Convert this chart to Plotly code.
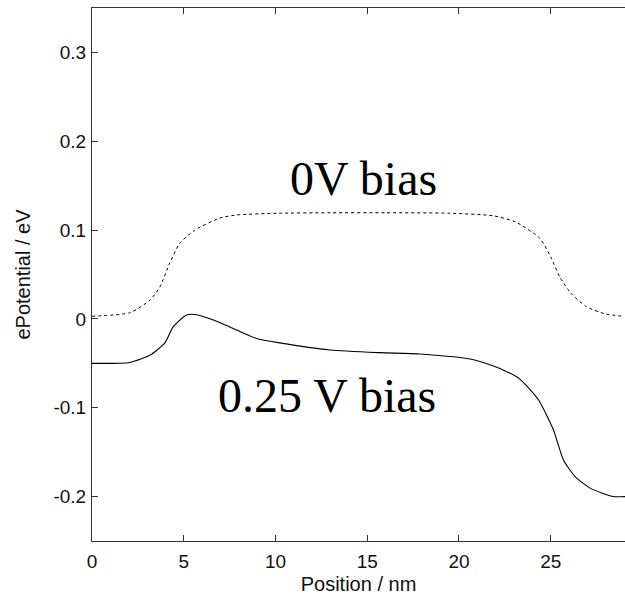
import plotly.graph_objects as go

# 0 V bias (dotted)
x_0v = [0, 2.06, 3.15, 3.7, 4.24, 4.78, 5.6, 6.97, 7.88, 10.2, 13.0, 16.0, 19.5, 21.9, 23.1, 24.4, 25.0, 25.5, 26.1, 26.95, 28.0, 29.0]
y_0v = [0.003, 0.007, 0.021, 0.036, 0.063, 0.085, 0.100, 0.1135, 0.117, 0.119, 0.1195, 0.1195, 0.119, 0.116, 0.109, 0.091, 0.070, 0.047, 0.029, 0.0137, 0.0055, 0.003]

# 0.25 V bias (solid)
x_025v = [0, 2.06, 3.15, 3.97, 4.42, 5.15, 5.7, 6.58, 7.51, 8.97, 10.24, 12.97, 15.7, 17.88, 20.8, 22.4, 23.33, 24.33, 25.15, 25.7, 26.33, 27.15, 28.42, 29.06]
y_025v = [-0.050, -0.049, -0.041, -0.027, -0.009, 0.0044, 0.0047, -0.001, -0.009, -0.022, -0.027, -0.035, -0.038, -0.0395, -0.046, -0.0574, -0.068, -0.091, -0.125, -0.159, -0.1775, -0.1905, -0.200, -0.200]

x_ticks = [0, 5, 10, 15, 20, 25]
y_ticks = [-0.2, -0.1, 0, 0.1, 0.2, 0.3]
y_tick_text = ["-0.2", "-0.1", "0", "0.1", "0.2", "0.3"]

fig = go.Figure()
fig.add_trace(go.Scatter(x=x_0v, y=y_0v, mode="lines", line=dict(color="black", width=1, dash="dot", shape="spline", smoothing=0.6), showlegend=False))
fig.add_trace(go.Scatter(x=x_025v, y=y_025v, mode="lines", line=dict(color="black", width=1.1, shape="spline", smoothing=0.6), showlegend=False))

tick_font = dict(family="Liberation Sans, Arial", size=19, color="#111")
title_font = dict(family="Liberation Sans, Arial", size=20, color="#111")
fig.update_layout(
    width=625, height=600,
    margin=dict(l=92, r=0, t=8, b=59),
    paper_bgcolor="white", plot_bgcolor="white",
    xaxis=dict(range=[0, 29.05], tickvals=x_ticks, ticks="inside", ticklen=6, tickcolor="#333",
               showline=True, linecolor="#333", linewidth=1, mirror="ticks", showgrid=False, zeroline=False,
               tickfont=tick_font, ticklabelstandoff=3,
               title=dict(text="Position / nm", font=title_font, standoff=6)),
    yaxis=dict(range=[-0.25, 0.35], tickvals=y_ticks, ticktext=y_tick_text, ticks="inside", ticklen=6, tickcolor="#333",
               showline=True, linecolor="#333", linewidth=1, mirror=False, showgrid=False, zeroline=False,
               tickfont=tick_font, ticklabelstandoff=1,
               title=dict(text="ePotential / eV", font=title_font, standoff=17)),
    annotations=[
        dict(x=14.82, y=0.158, xref="x", yref="y", text="0V bias", showarrow=False,
             font=dict(family="Liberation Serif, serif", size=48, color="black"), xanchor="center", yanchor="middle"),
        dict(x=12.79, y=-0.086, xref="x", yref="y", text="0.25 V bias", showarrow=False,
             font=dict(family="Liberation Serif, serif", size=48, color="black"), xanchor="center", yanchor="middle"),
    ],
)

fig.write_html("out.html")
